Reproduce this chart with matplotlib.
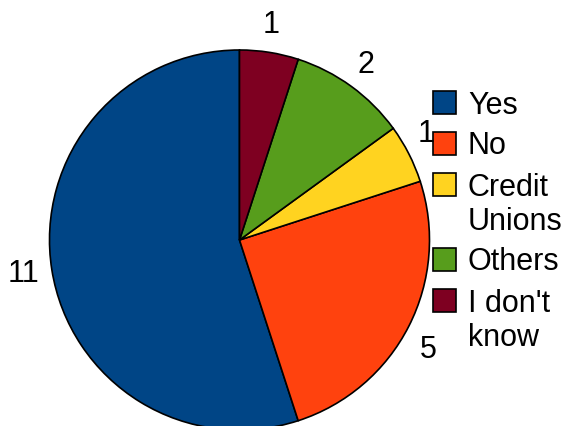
import matplotlib
matplotlib.use("Agg")
import matplotlib.pyplot as plt
from matplotlib.patches import Rectangle
import numpy as np

categories = ["Yes", "No", "Credit\nUnions", "Others", "I don't\nknow"]
values = [11, 5, 1, 2, 1]
colors = ["#004586", "#ff420e", "#ffd320", "#579d1c", "#7e0021"]

plt.rcParams['font.family'] = ['Liberation Sans', 'DejaVu Sans']

W, H = 569, 426
fig = plt.figure(figsize=(W / 100, H / 100), dpi=100)
ax = fig.add_axes([0, 0, 1, 1])

cx, cy, r = 239.5, H - 240, 190
wedges, texts = ax.pie(values, colors=colors, startangle=90, counterclock=True,
                       center=(cx, cy), radius=r, labels=[str(v) for v in values],
                       labeldistance=1.15, frame=True,
                       wedgeprops=dict(edgecolor='black', linewidth=1.2),
                       textprops=dict(fontsize=22))
ax.set_xlim(0, W)
ax.set_ylim(0, H)
ax.set_aspect('equal')
ax.axis('off')

dists = [1.15, 1.14, 1.14, 1.15, 1.16]
shifts = [-1.0, -2.5, 3.5, 0.7, 0.8]  # small angular offsets (deg)
for w, t, d, s in zip(wedges, texts, dists, shifts):
    ang = np.deg2rad((w.theta1 + w.theta2) / 2 + s)
    t.set_position((cx + d * r * np.cos(ang), cy + d * r * np.sin(ang)))
    t.set_ha('center')
    t.set_va('center_baseline')

# legend
y = 102
for lab, col in zip(categories, colors):
    lines = lab.split("\n")
    ax.add_patch(Rectangle((433, H - y - 11.5), 23, 23, facecolor=col,
                           edgecolor='black', linewidth=1.2, clip_on=False))
    for i, ln in enumerate(lines):
        ax.text(468, H - (y + 34 * i), ln, fontsize=22, ha='left',
                va='center_baseline')
    y += 41 + 34 * (len(lines) - 1)

fig.savefig("out.png", dpi=100)
